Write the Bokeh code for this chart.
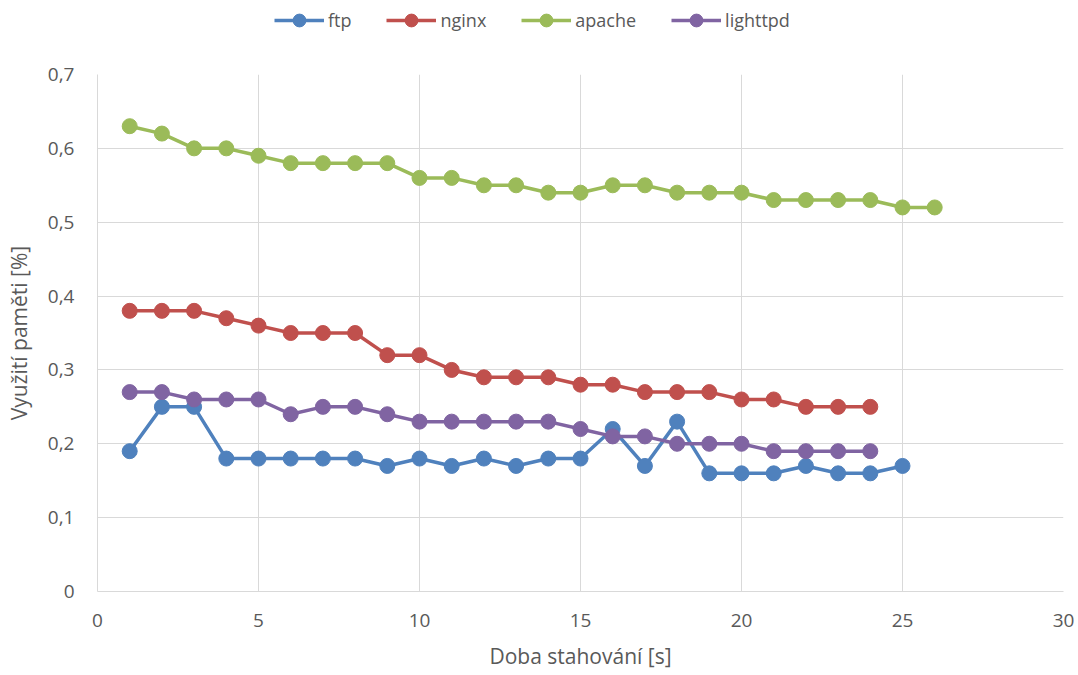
from bokeh.plotting import figure
from bokeh.layouts import column
from bokeh.models import Legend, LegendItem, FixedTicker, Range1d
from bokeh.embed import file_html
from bokeh.resources import INLINE

ftp_x = list(range(1, 26))
ftp = [0.19, 0.25, 0.25, 0.18, 0.18, 0.18, 0.18, 0.18, 0.17, 0.18, 0.17, 0.18, 0.17,
       0.18, 0.18, 0.22, 0.17, 0.23, 0.16, 0.16, 0.16, 0.17, 0.16, 0.16, 0.17]
nginx_x = list(range(1, 25))
nginx = [0.38, 0.38, 0.38, 0.37, 0.36, 0.35, 0.35, 0.35, 0.32, 0.32, 0.30, 0.29,
         0.29, 0.29, 0.28, 0.28, 0.27, 0.27, 0.27, 0.26, 0.26, 0.25, 0.25, 0.25]
apache_x = list(range(1, 27))
apache = [0.63, 0.62, 0.60, 0.60, 0.59, 0.58, 0.58, 0.58, 0.58, 0.56, 0.56, 0.55, 0.55,
          0.54, 0.54, 0.55, 0.55, 0.54, 0.54, 0.54, 0.53, 0.53, 0.53, 0.53, 0.52, 0.52]
lighttpd_x = list(range(1, 25))
lighttpd = [0.27, 0.27, 0.26, 0.26, 0.26, 0.24, 0.25, 0.25, 0.24, 0.23, 0.23, 0.23,
            0.23, 0.23, 0.22, 0.21, 0.21, 0.20, 0.20, 0.20, 0.19, 0.19, 0.19, 0.19]

series_names = ["ftp", "nginx", "apache", "lighttpd"]
series_colors = ["#4f81bd", "#c0504d", "#9bbb59", "#8064a2"]

x_ticks = [0, 5, 10, 15, 20, 25, 30]
y_ticks = [0, 0.1, 0.2, 0.3, 0.4, 0.5, 0.6, 0.7]
y_tick_labels = ["0", "0,1", "0,2", "0,3", "0,4", "0,5", "0,6", "0,7"]

FONT = "Open Sans"
TXT = "#595959"

# main chart
p = figure(width=1078, height=635, output_backend="svg", toolbar_location=None,
           x_range=Range1d(0, 30), y_range=Range1d(0, 0.7),
           min_border_left=97, min_border_right=15, min_border_top=34, min_border_bottom=84)
p.outline_line_color = None

data = [(ftp_x, ftp), (nginx_x, nginx), (apache_x, apache), (lighttpd_x, lighttpd)]
for name, color, (xs, ys) in zip(series_names, series_colors, data):
    p.line(xs, ys, line_color=color, line_width=3.5)
    p.scatter(xs, ys, size=15, fill_color=color, line_color=color)

p.xaxis.ticker = FixedTicker(ticks=x_ticks)
p.yaxis.ticker = FixedTicker(ticks=y_ticks)
p.yaxis.major_label_overrides = {t: s for t, s in zip(y_ticks, y_tick_labels)}

for ax in (p.xaxis[0], p.yaxis[0]):
    ax.axis_line_color = "#d9d9d9"
    ax.major_tick_line_color = None
    ax.minor_tick_line_color = None
    ax.major_label_text_font = FONT
    ax.major_label_text_font_size = "19px"
    ax.major_label_text_color = TXT
    ax.axis_label_text_font = FONT
    ax.axis_label_text_font_size = "21px"
    ax.axis_label_text_font_style = "normal"
    ax.axis_label_text_color = TXT

p.xaxis.axis_label = "Doba stahování [s]"
p.yaxis.axis_label = "Využití paměti [%]"
p.xaxis.major_label_standoff = 16
p.xaxis.axis_label_standoff = 12
p.yaxis.major_label_standoff = 17
p.yaxis.axis_label_standoff = 12

p.xgrid.ticker = FixedTicker(ticks=x_ticks)
p.ygrid.ticker = FixedTicker(ticks=y_ticks)
p.grid.grid_line_color = "#d9d9d9"
p.grid.grid_line_width = 1

# legend strip (its renderers carry the same series, kept outside this strip's view)
lg = figure(width=1078, height=40, output_backend="svg", toolbar_location=None,
            x_range=Range1d(100, 101), y_range=Range1d(100, 101),
            min_border=0, x_axis_type=None, y_axis_type=None)
lg.outline_line_color = None
lg.grid.visible = False
items = []
for name, color, (xs, ys) in zip(series_names, series_colors, data):
    l = lg.line(xs, ys, line_color=color, line_width=3.5)
    c = lg.scatter(xs, ys, size=15, fill_color=color, line_color=color)
    items.append(LegendItem(label=name, renderers=[l, c]))

legend = Legend(items=items, orientation="horizontal", location=(177, 4),
                label_text_font=FONT, label_text_font_size="18px", label_text_color=TXT,
                glyph_width=50, glyph_height=32, spacing=35, border_line_color=None,
                background_fill_alpha=0, margin=0, padding=0, label_standoff=4)
lg.add_layout(legend, "center")

layout = column(lg, p, spacing=0)
open("out.html", "w").write(file_html(layout, INLINE))
